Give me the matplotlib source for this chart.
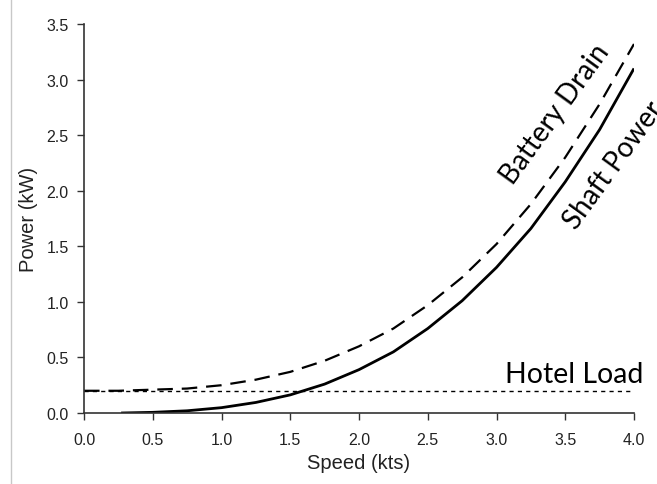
import matplotlib
matplotlib.use("Agg")
import matplotlib.pyplot as plt
from matplotlib.lines import Line2D

speed_shaft = [0.27, 0.5, 0.75, 1.0, 1.25, 1.5, 1.75, 2.0, 2.25, 2.5, 2.75, 3.0, 3.25, 3.5, 3.75, 4.0]
shaft_power = [0.0, 0.006, 0.02, 0.048, 0.095, 0.163, 0.26, 0.39, 0.55, 0.76, 1.01, 1.31, 1.66, 2.08, 2.55, 3.10]

speed_batt = [0.0, 0.25, 0.5, 0.75, 1.0, 1.25, 1.5, 1.75, 2.0, 2.25, 2.5, 2.75, 3.0, 3.25, 3.5, 3.75, 4.0]
battery_drain = [0.20, 0.20, 0.21, 0.22, 0.25, 0.30, 0.37, 0.47, 0.60, 0.76, 0.97, 1.22, 1.52, 1.88, 2.30, 2.78, 3.32]

hotel_speed = [0.0, 3.98]
hotel_load = [0.2, 0.2]

xticks = [0.0, 0.5, 1.0, 1.5, 2.0, 2.5, 3.0, 3.5, 4.0]
yticks = [0.0, 0.5, 1.0, 1.5, 2.0, 2.5, 3.0, 3.5]

fig = plt.figure(figsize=(6.57, 4.85), dpi=100)
ax = fig.add_axes([84/657, 1-414/485, (634-84)/657, (414-25)/485])

ax.plot(speed_shaft, shaft_power, color="black", lw=2.0, solid_capstyle="butt")
ax.plot(speed_batt, battery_drain, color="black", lw=1.6, dashes=(7, 4))
ax.plot(hotel_speed, hotel_load, color="black", lw=1.0, dashes=(3, 3))

ax.set_xlim(0, 4)
ax.set_ylim(0, 3.5)
ax.set_xticks(xticks)
ax.set_yticks(yticks)
ax.set_xticklabels([f"{t:.1f}" for t in xticks], family="Liberation Sans", fontsize=11.5)
ax.set_yticklabels([f"{t:.1f}" for t in yticks], family="Liberation Sans", fontsize=11.5)
for s in ["top", "right"]:
    ax.spines[s].set_visible(False)
for s in ["left", "bottom"]:
    ax.spines[s].set_color("#333333")
    ax.spines[s].set_linewidth(1.2)
ax.tick_params(direction="out", length=5, width=1.0, color="#333333", labelcolor="#222222")
ax.tick_params(axis="x", pad=9)
ax.tick_params(axis="y", pad=6)
ax.set_xlabel("Speed (kts)", family="Liberation Sans", fontsize=14.5, color="#222222", labelpad=4)
ax.set_ylabel("Power (kW)", family="Liberation Sans", fontsize=14.5, color="#222222", labelpad=6)

ax.text(3.06, 0.28, "Hotel Load", family="Lato", fontsize=20.5, ha="left", va="baseline")
ax.text(3.12, 2.05, "Battery Drain", family="Lato", fontsize=20, rotation=54,
        rotation_mode="anchor", ha="left", va="baseline", clip_on=False)
ax.text(3.58, 1.65, "Shaft Power", family="Lato", fontsize=20, rotation=54,
        rotation_mode="anchor", ha="left", va="baseline", clip_on=False)

fig.add_artist(Line2D([11/657, 11/657], [0, 1], color="#c8c8c8", lw=1.0))

fig.savefig("out.png", dpi=100)
